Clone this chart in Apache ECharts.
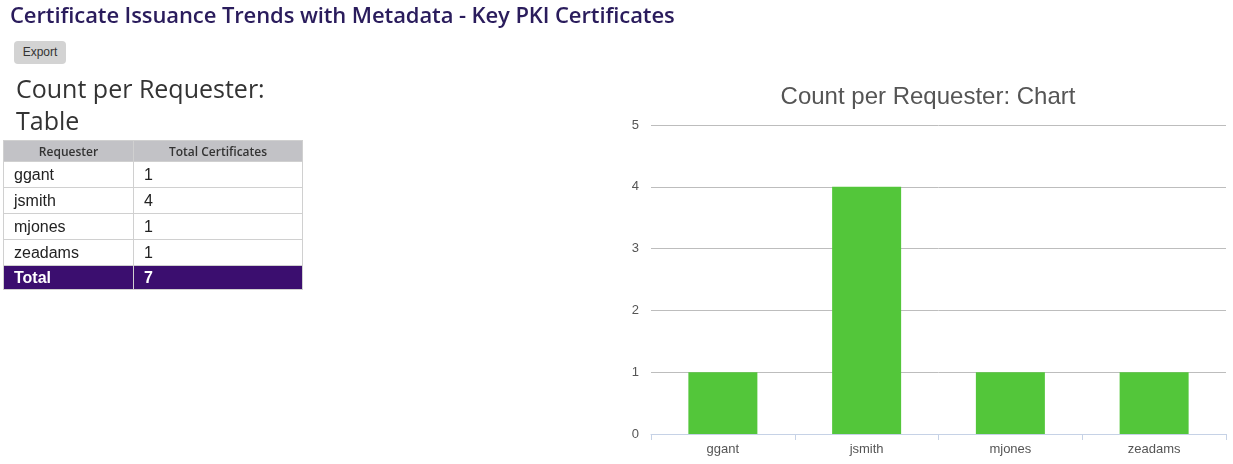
<!DOCTYPE html>
<html>
<head>
<meta charset="utf-8">
<script src="https://cdn.jsdelivr.net/npm/echarts@6/dist/echarts.min.js"></script>
<style>
  html, body { margin: 0; padding: 0; width: 1233px; height: 464px; background: #fff; overflow: hidden; }
  #chart { position: absolute; left: 0; top: 0; width: 1233px; height: 464px; }
  #page { position: absolute; left: 0; top: 0; width: 600px; height: 464px; font-family: "Open Sans", "Lato", sans-serif; }
  h1 { position: absolute; left: 10px; top: -1px; margin: 0; font-size: 22px; font-weight: 600; color: #2a1c5c; white-space: nowrap; letter-spacing: -0.1px; }
  .btn { position: absolute; left: 14px; top: 41px; width: 52px; height: 23px; background: #d3d3d3; border-radius: 4px;
         font-family: "Liberation Sans", Arial, sans-serif; font-size: 12px; color: #333; text-align: center; line-height: 23px; }
  h2 { position: absolute; left: 16px; top: 72px; margin: 0; font-size: 25px; font-weight: 400; color: #333; line-height: 32px; width: 275px; }
  table { position: absolute; left: 3px; top: 140px; border-collapse: collapse; width: 300px; font-family: "Liberation Sans", Arial, sans-serif; }
  td, th { border: 1px solid #d0d0d0; padding: 0 0 0 10px; text-align: left; }
  th { background: #c2c2c6; font-family: "Open Sans", sans-serif; font-size: 12px; font-weight: 600; color: #333; height: 20px; text-align: center; padding: 0; }
  td { font-size: 16px; color: #222; height: 25px; padding-left: 10px; }
  tr.total td { background: #3b0e6f; color: #fff; font-weight: 700; height: 23px; }
</style>
</head>
<body>
<div id="chart"></div>
<div id="page">
  <h1>Certificate Issuance Trends with Metadata - Key PKI Certificates</h1>
  <div class="btn">Export</div>
  <h2>Count per Requester: Table</h2>
  <table id="tbl"></table>
</div>
<script>
const categories = ["ggant", "jsmith", "mjones", "zeadams"];
const counts = [1, 4, 1, 1];
const yTicks = [0, 1, 2, 3, 4, 5];

// table
const tbl = document.getElementById('tbl');
let html = '<tr><th style="width:129px">Requester</th><th>Total Certificates</th></tr>';
categories.forEach((c, i) => { html += '<tr><td>' + c + '</td><td>' + counts[i] + '</td></tr>'; });
html += '<tr class="total"><td>Total</td><td>' + counts.reduce((a, b) => a + b, 0) + '</td></tr>';
tbl.innerHTML = html;

const chart = echarts.init(document.getElementById('chart'));
chart.setOption({
  animation: false,
  title: {
    text: 'Count per Requester: Chart',
    left: 923, top: 80,
    textAlign: 'center',
    textStyle: { fontFamily: 'Liberation Sans, Arial, sans-serif', fontSize: 24, fontWeight: 'normal', color: '#555' }
  },
  grid: { left: 651, right: 7, top: 125, bottom: 30 },
  xAxis: {
    type: 'category',
    data: categories,
    axisLine: { lineStyle: { color: '#c6d2e6' } },
    axisTick: { show: true, length: 6, lineStyle: { color: '#c6d2e6' } },
    axisLabel: { color: '#555', fontSize: 13, fontFamily: 'Liberation Sans, Arial, sans-serif', margin: 9 }
  },
  yAxis: {
    type: 'value',
    min: yTicks[0], max: yTicks[yTicks.length - 1], interval: 1,
    axisLine: { show: false },
    axisTick: { show: false },
    axisLabel: { color: '#555', fontSize: 13, fontFamily: 'Liberation Sans, Arial, sans-serif', margin: 12 },
    splitLine: { lineStyle: { color: '#bdbdbd' } }
  },
  series: [{
    type: 'bar',
    data: counts,
    barWidth: '48%',
    itemStyle: { color: '#53c63a' }
  }]
});
</script>
</body>
</html>
